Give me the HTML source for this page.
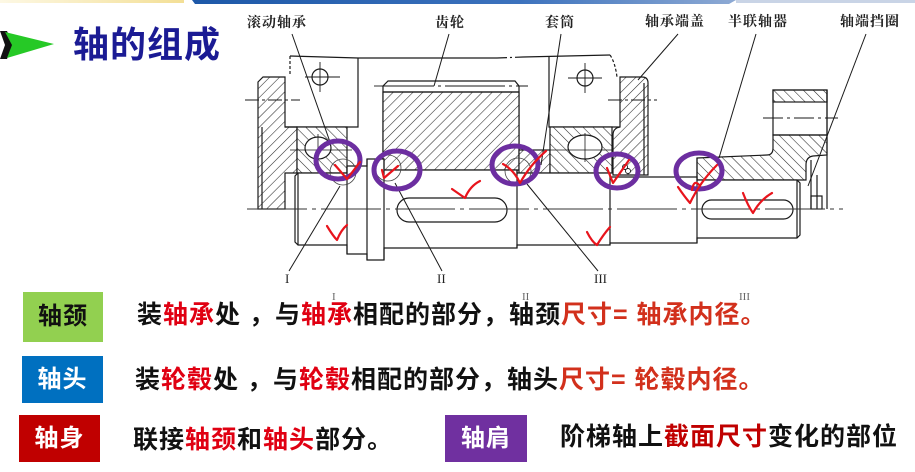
<!DOCTYPE html>
<html><head><meta charset="utf-8">
<style>
html,body{margin:0;padding:0;background:#fff;}
body{width:915px;height:472px;position:relative;overflow:hidden;font-family:"Liberation Sans","Noto Sans CJK SC",sans-serif;}
.t{position:absolute;white-space:nowrap;font-weight:bold;font-size:25px;line-height:25px;letter-spacing:1px;color:#111;}
.r{color:#e00012;}
.o{color:#d2301c;}
.d{color:#c00000;}
.box{position:absolute;display:flex;align-items:center;justify-content:center;font-weight:bold;font-size:24px;line-height:24px;letter-spacing:1px;}
.lb{position:absolute;white-space:nowrap;font-family:"Liberation Serif","Noto Serif CJK SC",serif;font-weight:bold;font-size:14px;line-height:14px;letter-spacing:1px;color:#222;}
.rn{position:absolute;white-space:nowrap;font-family:"Liberation Serif",serif;font-size:13px;line-height:13px;color:#222;}
svg{position:absolute;left:0;top:0;}
</style></head><body>
<svg width="915" height="472" viewBox="0 0 915 472">
<defs>
<linearGradient id="gy" x1="0" x2="1"><stop offset="0" stop-color="#fdf8e4"/><stop offset="1" stop-color="#f3df96"/></linearGradient>
<linearGradient id="gb" x1="0" x2="1"><stop offset="0" stop-color="#1d58a8"/><stop offset="0.6" stop-color="#3c72bd"/><stop offset="1" stop-color="#8eaad4"/></linearGradient>
<pattern id="hf" patternUnits="userSpaceOnUse" width="7" height="7" patternTransform="rotate(45)"><rect width="7" height="7" fill="#fff"/><line x1="0" y1="0" x2="0" y2="7" stroke="#2a2a2a" stroke-width="1.1"/></pattern>
<pattern id="hb" patternUnits="userSpaceOnUse" width="7" height="7" patternTransform="rotate(-45)"><rect width="7" height="7" fill="#fff"/><line x1="0" y1="0" x2="0" y2="7" stroke="#2a2a2a" stroke-width="1.1"/></pattern>
</defs>

<!-- top bar -->
<rect x="0" y="0" width="184" height="3" fill="url(#gy)"/>
<polygon points="192,0 736,0 729,4 195,4" fill="url(#gb)"/>
<rect x="736" y="0" width="179" height="3" fill="#c9d4e6"/>

<!-- arrow -->
<polygon points="0,31 7,31 13,45 7,59 0,59 5,45" fill="#111"/>
<polygon points="5,32 54,44 7,58 12,45" fill="#26c926"/>

<g fill="none" stroke="#1a1a1a" stroke-width="1.2">
<!-- top break line -->
<path d="M290,56 L358,58 L497,58" />
<path d="M497,58 L523,57" stroke-dasharray="10 3 2 3"/>
<path d="M523,57 L610,55"/>
<path d="M290,56 L290,76" stroke-dasharray="3 2"/>
<path d="M610,55 Q615,62 617,77" stroke-dasharray="3 2"/>

<!-- left cover -->
<path d="M258,82 L263,77 L285,77 L285,127 L297,127 L297,173 L285,173 L285,209 L258,209 Z" fill="url(#hf)"/>
<line x1="262" y1="127" x2="262" y2="209"/>
<!-- left housing box -->
<path d="M285,127 L358,127 L358,58"/>
<circle cx="320" cy="77" r="8"/>
<g stroke-width="0.9"><line x1="305" y1="77" x2="340" y2="77"/><line x1="320" y1="62" x2="320" y2="92"/></g>
<line x1="245" y1="100" x2="300" y2="100" stroke-width="0.9" stroke-dasharray="14 3 3 3"/>

<!-- left bearing -->
<rect x="297" y="127" width="50" height="46" fill="url(#hb)"/>
<ellipse cx="318" cy="148" rx="13" ry="11" fill="#fff"/>
<g stroke-width="0.8"><line x1="290" y1="150" x2="352" y2="150"/><line x1="318" y1="134" x2="318" y2="163"/></g>

<!-- gear -->
<path d="M383,86 L388,81 L515,81 L519,86 L519,170 L383,170 Z" fill="#fff"/>
<rect x="383" y="92" width="136" height="78" fill="url(#hf)"/>
<line x1="383" y1="92" x2="519" y2="92"/>
<line x1="374" y1="86" x2="528" y2="86" stroke-width="0.9" stroke-dasharray="60 4 3 4"/>

<!-- sleeve -->
<rect x="519" y="150" width="31" height="23" fill="url(#hf)"/>

<!-- right housing -->
<path d="M549,57 L549,127 L620,127"/>
<circle cx="585" cy="78" r="8"/>
<g stroke-width="0.9"><line x1="568" y1="78" x2="602" y2="78"/><line x1="585" y1="63" x2="585" y2="93"/></g>

<!-- right bearing -->
<rect x="550" y="127" width="62" height="46" fill="url(#hb)"/>
<ellipse cx="585" cy="147" rx="17" ry="12" fill="#fff"/>
<g stroke-width="0.8"><line x1="545" y1="150" x2="617" y2="150"/><line x1="585" y1="133" x2="585" y2="162"/></g>

<!-- right cover -->
<path d="M620,77 L642,77 Q648,77 648,83 L648,175 L613,175 L613,135 Q613,128 620,127 Z" fill="url(#hf)"/>
<line x1="644" y1="83" x2="644" y2="175"/>
<line x1="608" y1="100" x2="657" y2="100" stroke-width="0.9" stroke-dasharray="14 3 3 3"/>
<circle cx="625" cy="167" r="2.5" fill="#fff" stroke-width="0.9"/>
<circle cx="628" cy="171" r="2.5" fill="#fff" stroke-width="0.9"/>

<!-- coupling -->
<path d="M697,158 L767,155 Q773,155 773,148 L773,135 L827,135 L827,155 L813,156 Q806,157 806,165 L806,180 L697,180 Z" fill="url(#hb)"/>
<rect x="773" y="90" width="54" height="12" fill="url(#hb)"/>
<rect x="773" y="90" width="54" height="45"/>
<line x1="763" y1="118" x2="838" y2="118" stroke-width="0.9" stroke-dasharray="20 4 3 4"/>
<line x1="827" y1="90" x2="827" y2="209"/>
<line x1="811" y1="160" x2="811" y2="209"/>
<line x1="817" y1="175" x2="817" y2="209"/>
<rect x="811" y="196" width="11" height="13"/>

<!-- shaft -->
<path d="M298,173 L347,173 L347,166 L367,166 L367,159 L384,159 L384,170 L517,170 L517,173 L610,173 L610,177 L697,177 L697,180 L797,180 L800,183 L800,235 L797,238 L697,238 L697,243 L610,243 L610,245 L517,245 L517,248 L384,248 L384,260 L367,260 L367,254 L347,254 L347,245 L298,245 L295,242 L295,176 Z" fill="#fff"/>
<line x1="298" y1="173" x2="298" y2="245"/>
<line x1="347" y1="166" x2="347" y2="254"/>
<line x1="367" y1="159" x2="367" y2="260"/>
<line x1="384" y1="159" x2="384" y2="260"/>
<line x1="517" y1="170" x2="517" y2="248"/>
<line x1="610" y1="173" x2="610" y2="245"/>
<line x1="697" y1="158" x2="697" y2="243"/>
<line x1="797" y1="180" x2="797" y2="238"/>
<rect x="397" y="198" width="110" height="24" rx="12"/>
<rect x="702" y="200" width="91" height="19" rx="9.5"/>

<!-- centerline -->
<line x1="247" y1="209" x2="843" y2="209" stroke-width="0.9" stroke="#333" stroke-dasharray="60 5 4 5"/>

<!-- detail circles -->
<g stroke-width="0.8" stroke="#444">
<circle cx="343" cy="172" r="13"/>
<circle cx="388" cy="168" r="13"/>
<circle cx="518" cy="171" r="13"/>
</g>

<!-- leaders -->
<g stroke-width="1">
<line x1="292" y1="34" x2="330" y2="142"/>
<line x1="449" y1="34" x2="434" y2="86"/>
<line x1="561" y1="34" x2="541" y2="165"/>
<line x1="678" y1="34" x2="638" y2="80"/>
<line x1="756" y1="34" x2="719" y2="158"/>
<line x1="866" y1="34" x2="808" y2="186"/>
<line x1="289" y1="271" x2="340" y2="186"/>
<line x1="442" y1="271" x2="395" y2="183"/>
<line x1="598" y1="271" x2="527" y2="184"/>
</g>
</g>

<!-- purple rings -->
<g fill="none" stroke="#6c2ea0" stroke-width="5">
<ellipse cx="338" cy="160" rx="22" ry="19"/>
<ellipse cx="397" cy="170" rx="23" ry="19"/>
<ellipse cx="515" cy="165" rx="23" ry="19"/>
<ellipse cx="617" cy="171" rx="21" ry="17"/>
<ellipse cx="699" cy="171" rx="23" ry="18"/>
</g>

<!-- red checks -->
<g fill="none" stroke="#e8141c" stroke-width="2.2" stroke-linecap="round" stroke-linejoin="round">
<path d="M335,165 L347,179 L360,162"/>
<path d="M382,170 L384,178 L398,166"/>
<path d="M452,189 Q462,196 465,198 Q470,186 480,181"/>
<path d="M503,164 Q514,170 520,183 Q530,165 546,151"/>
<path d="M327,226 Q333,236 337,240 Q341,230 347,225"/>
<path d="M587,232 Q592,242 597,245 Q603,235 610,227"/>
<path d="M607,168 L613,183 L629,160"/>
<path d="M678,187 Q684,196 690,203 Q700,182 717,165"/>
<path d="M692,190 Q694,178 700,186"/>
<path d="M743,193 Q748,206 753,213 Q760,200 772,193"/>
</g>
</svg>

<div style="position:absolute;left:73px;top:27px;font-size:36px;line-height:36px;font-weight:bold;color:#1b1b94;letter-spacing:1px;white-space:nowrap;">轴的组成</div>

<div class="lb" style="left:247px;top:17px;">滚动轴承</div>
<div class="lb" style="left:435px;top:17px;">齿轮</div>
<div class="lb" style="left:545px;top:17px;">套筒</div>
<div class="lb" style="left:645px;top:16px;">轴承端盖</div>
<div class="lb" style="left:728px;top:16px;">半联轴器</div>
<div class="lb" style="left:840px;top:16px;">轴端挡圈</div>

<div class="rn" style="left:285px;top:272px;">I</div>
<div class="rn" style="left:437px;top:272px;">II</div>
<div class="rn" style="left:594px;top:272px;">III</div>
<div class="rn" style="left:332px;top:291px;color:#666;font-size:11px;">I</div>
<div class="rn" style="left:522px;top:291px;color:#666;font-size:11px;">II</div>
<div class="rn" style="left:739px;top:291px;color:#666;font-size:11px;">III</div>

<div class="box" style="left:23px;top:292px;width:80px;height:50px;background:#92d050;color:#111;">轴颈</div>
<div class="box" style="left:22px;top:356px;width:81px;height:47px;background:#0070c0;color:#fff;">轴头</div>
<div class="box" style="left:19px;top:415px;width:81px;height:47px;background:#c00000;color:#fff;">轴身</div>
<div class="box" style="left:445px;top:415px;width:82px;height:47px;background:#7030a0;color:#fff;">轴肩</div>

<div class="t" style="left:137px;top:303px;">装<span class="r">轴承</span>处 ，与<span class="r">轴承</span>相配的部分，轴颈<span class="o">尺寸= 轴承内径。</span></div>
<div class="t" style="left:135px;top:368px;">装<span class="r">轮毂</span>处 ，与<span class="r">轮毂</span>相配的部分，轴头<span class="o">尺寸= 轮毂内径。</span></div>
<div class="t" style="left:133px;top:428px;">联接<span class="r">轴颈</span>和<span class="r">轴头</span>部分。</div>
<div class="t" style="left:560px;top:425px;">阶梯轴上<span class="d">截面尺寸</span>变化的部位</div>
</body></html>
